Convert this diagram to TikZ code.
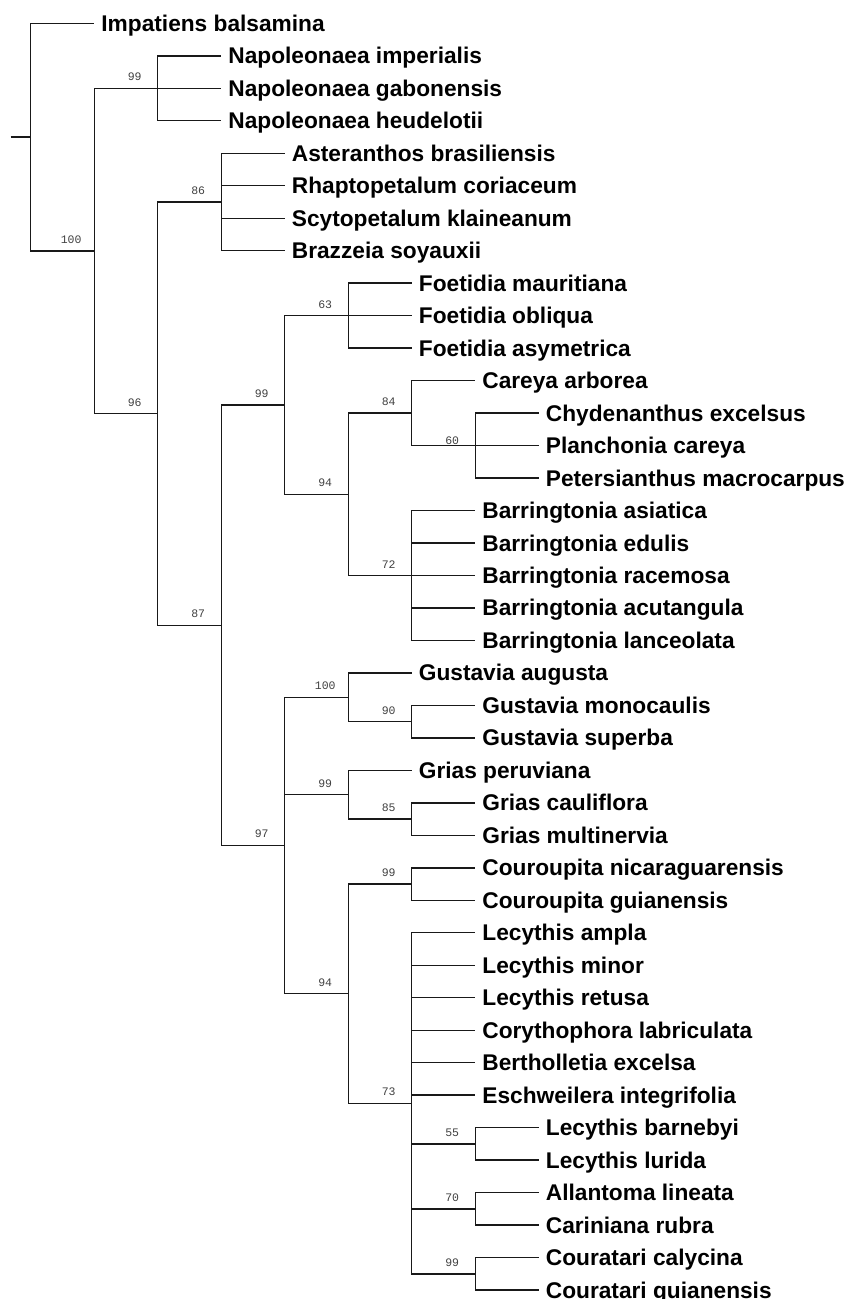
\documentclass[tikz,border=0pt]{standalone}
\usepackage{fontspec}
\setmainfont{Liberation Sans}
\newfontfamily\bootfont{Liberation Mono}
\usepackage{tikz}
\usetikzlibrary{calc}

\tikzset{
  branch/.style={line width=1.4pt, black!90},
  taxon/.style={anchor=base west, inner sep=0pt, xshift=7pt, yshift=-8pt,
    font=\bfseries\fontsize{22.7}{26}\selectfont},
  support/.style={anchor=base, inner sep=0pt, xshift=-23pt, yshift=7.5pt,
    text=black!75, font=\bootfont\fontsize{11.5}{12}\selectfont}
}

\begin{document}
\begin{tikzpicture}[x=1pt,y=-1pt]
      \useasboundingbox (0,0) rectangle (855,1299);

      % Noeuds internes
      \coordinate (stub) at (10.7,137.1);
      \coordinate (root) at (30.7,137.1);
      \coordinate (lecA) at (94.2,250.9);
      \coordinate (napo) at (157.7,88.3);
      \coordinate (lecB) at (157.7,413.6);
      \coordinate (scyto) at (221.2,202.0);
      \coordinate (core) at (221.2,625.2);
      \coordinate (foetbarr) at (284.7,405.0);
      \coordinate (lecyth) at (284.7,845.4);
      \coordinate (foet) at (348.2,315.6);
      \coordinate (barrcl) at (348.2,494.3);
      \coordinate (gust) at (348.2,697.3);
      \coordinate (grias) at (348.2,794.7);
      \coordinate (lecycl) at (348.2,993.6);
      \coordinate (careya) at (411.7,413.1);
      \coordinate (barr) at (411.7,575.5);
      \coordinate (gmono) at (411.7,721.7);
      \coordinate (gcaul) at (411.7,819.1);
      \coordinate (cour) at (411.7,884.1);
      \coordinate (lecy) at (411.7,1103.2);
      \coordinate (plan) at (475.2,445.5);
      \coordinate (lbarn) at (475.2,1143.9);
      \coordinate (allan) at (475.2,1208.9);
      \coordinate (courat) at (475.2,1273.8);

      % Branches internes
      \draw[branch] (stub) -- (root);
      \draw[branch] (root) |- (lecA);
      \draw[branch] (lecA) |- (napo);
      \draw[branch] (lecA) |- (lecB);
      \draw[branch] (lecB) |- (scyto);
      \draw[branch] (lecB) |- (core);
      \draw[branch] (core) |- (foetbarr);
      \draw[branch] (core) |- (lecyth);
      \draw[branch] (foetbarr) |- (foet);
      \draw[branch] (foetbarr) |- (barrcl);
      \draw[branch] (barrcl) |- (careya);
      \draw[branch] (barrcl) |- (barr);
      \draw[branch] (careya) |- (plan);
      \draw[branch] (lecyth) |- (gust);
      \draw[branch] (lecyth) |- (grias);
      \draw[branch] (lecyth) |- (lecycl);
      \draw[branch] (gust) |- (gmono);
      \draw[branch] (grias) |- (gcaul);
      \draw[branch] (lecycl) |- (cour);
      \draw[branch] (lecycl) |- (lecy);
      \draw[branch] (lecy) |- (lbarn);
      \draw[branch] (lecy) |- (allan);
      \draw[branch] (lecy) |- (courat);

      % Valeurs de bootstrap
      \foreach \n/\v in {lecA/100, napo/99, lecB/96, scyto/86, core/87,
          foetbarr/99, lecyth/97, foet/63, barrcl/94, careya/84, barr/72,
          gust/100, grias/99, lecycl/94, gmono/90, gcaul/85, cour/99,
          lecy/73, lbarn/55, allan/70, courat/99}
        \node[support] (s-\n) at (\n) {\v};
      \node[support, yshift=-6pt] (s-plan) at (plan) {60};

      % Feuilles
      \foreach \p/\x/\n/\y/\t in {
          root/94.2/imp/23.3/Impatiens balsamina,
          napo/221.2/nimp/55.8/Napoleonaea imperialis,
          napo/221.2/ngab/88.3/Napoleonaea gabonensis,
          napo/221.2/nheu/120.7/Napoleonaea heudelotii,
          scyto/284.7/aste/153.2/Asteranthos brasiliensis,
          scyto/284.7/rhap/185.7/Rhaptopetalum coriaceum,
          scyto/284.7/scyt/218.2/Scytopetalum klaineanum,
          scyto/284.7/braz/250.7/Brazzeia soyauxii,
          foet/411.7/fmau/283.1/Foetidia mauritiana,
          foet/411.7/fobl/315.6/Foetidia obliqua,
          foet/411.7/fasy/348.1/Foetidia asymetrica,
          careya/475.2/care/380.6/Careya arborea,
          plan/538.7/chyd/413.1/Chydenanthus excelsus,
          plan/538.7/plca/445.5/Planchonia careya,
          plan/538.7/pete/478.0/Petersianthus macrocarpus,
          barr/475.2/basi/510.5/Barringtonia asiatica,
          barr/475.2/bedu/543.0/Barringtonia edulis,
          barr/475.2/brac/575.5/Barringtonia racemosa,
          barr/475.2/bacu/607.9/Barringtonia acutangula,
          barr/475.2/blan/640.4/Barringtonia lanceolata,
          gust/411.7/gaug/672.9/Gustavia augusta,
          gmono/475.2/gmon/705.4/Gustavia monocaulis,
          gmono/475.2/gsup/737.9/Gustavia superba,
          grias/411.7/gper/770.3/Grias peruviana,
          gcaul/475.2/gcau/802.8/Grias cauliflora,
          gcaul/475.2/gmul/835.3/Grias multinervia,
          cour/475.2/cnic/867.8/Couroupita nicaraguarensis,
          cour/475.2/cgui/900.3/Couroupita guianensis,
          lecy/475.2/lamp/932.7/Lecythis ampla,
          lecy/475.2/lmin/965.2/Lecythis minor,
          lecy/475.2/lret/997.7/Lecythis retusa,
          lecy/475.2/clab/1030.2/Corythophora labriculata,
          lecy/475.2/bexc/1062.7/Bertholletia excelsa,
          lecy/475.2/eint/1095.1/Eschweilera integrifolia,
          lbarn/538.7/lbar/1127.6/Lecythis barnebyi,
          lbarn/538.7/llur/1160.1/Lecythis lurida,
          allan/538.7/alin/1192.6/Allantoma lineata,
          allan/538.7/crub/1225.1/Cariniana rubra,
          courat/538.7/ccal/1257.5/Couratari calycina,
          courat/538.7/cgua/1290.0/Couratari guianensis}
      {
        \coordinate (\n) at (\x,\y);
        \draw[branch] (\p) |- (\n);
        \node[taxon] (\n-t) at (\n) {\t};
      }
    \end{tikzpicture}
\end{document}
